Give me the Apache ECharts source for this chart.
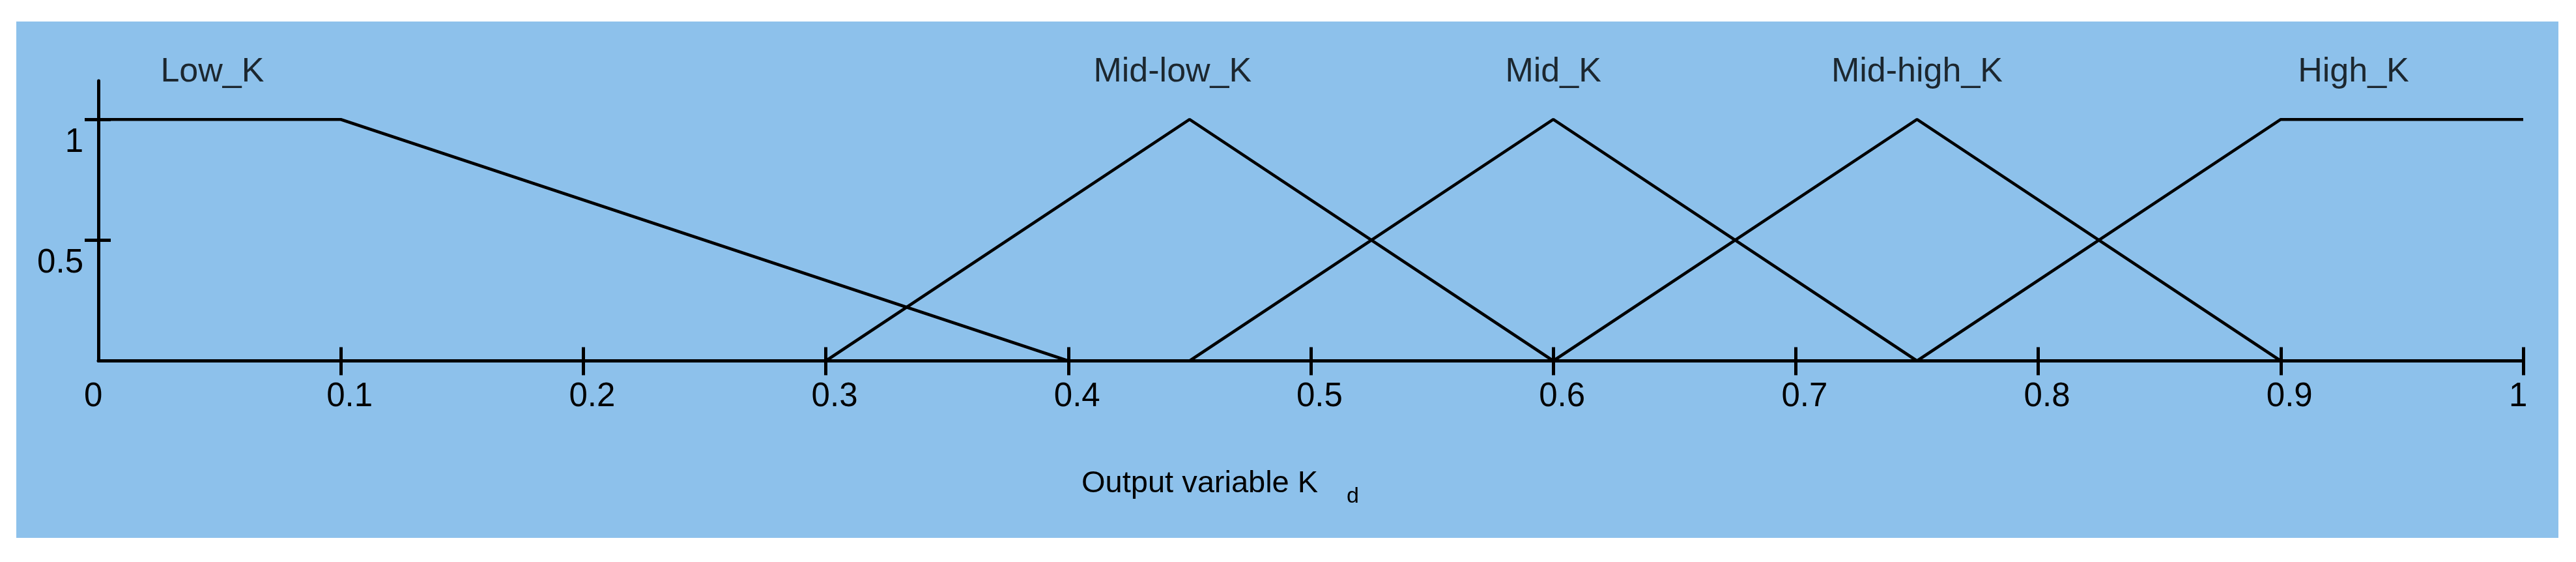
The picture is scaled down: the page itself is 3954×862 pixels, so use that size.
<!DOCTYPE html>
<html>
<head>
<meta charset="utf-8">
<script src="https://cdn.jsdelivr.net/npm/echarts@6/dist/echarts.min.js"></script>
<style>
    html, body {margin: 0; padding: 0; background: #fff;}
    #panel {position: absolute; left: 25px; top: 33px; width: 3902px; height: 792px; background: #8dc1eb;}
    #chart {position: absolute; left: 0; top: 0; width: 3954px; height: 862px;}
</style>
</head>
<body>
<div id="panel"></div>
<div id="chart"></div>
<script>
// membership functions of output variable Kd
var lowK = [[0, 1], [0.1, 1], [0.4, 0]];
var midLowK = [[0.3, 0], [0.45, 1], [0.6, 0]];
var midK = [[0.45, 0], [0.6, 1], [0.75, 0]];
var midHighK = [[0.6, 0], [0.75, 1], [0.9, 0]];
var highK = [[0.75, 0], [0.9, 1], [1, 1]];

var setNames = ['Low_K', 'Mid-low_K', 'Mid_K', 'Mid-high_K', 'High_K'];
var nameX = [0.047, 0.443, 0.6, 0.75, 0.93];
var nameY = 1.195;

var xTickValues = [0.1, 0.2, 0.3, 0.4, 0.5, 0.6, 0.7, 0.8, 0.9, 1];
var xLabelValues = [0, 0.1, 0.2, 0.3, 0.4, 0.5, 0.6, 0.7, 0.8, 0.9, 1];
var yTickValues = [0.5, 1];

var chart = echarts.init(document.getElementById('chart'));
var font = '"Liberation Sans", Arial, sans-serif';
var lineStyle = {color: '#000', width: 4.5};

function mfSeries(name, data) {
    return {
        name: name,
        type: 'line',
        data: data,
        symbol: 'none',
        lineStyle: lineStyle,
        silent: true,
        z: 3
    };
}

var labelData = [];
for (var i = 0; i < setNames.length; i++) {
    labelData.push([nameX[i], nameY, setNames[i]]);
}

var option = {
    animation: false,
    backgroundColor: 'transparent',
    textStyle: {fontFamily: font},
    title: [{
        text: 'Output variable K',
        left: 1655,
        top: 714,
        textStyle: {fontFamily: font, fontSize: 47, fontWeight: 'normal', color: '#000'}
    }, {
        text: 'd',
        left: 2062,
        top: 740,
        textStyle: {fontFamily: font, fontSize: 34, fontWeight: 'normal', color: '#000'}
    }],
    grid: {
        left: 151,
        right: 81,
        top: 124,
        bottom: 308.5,
        containLabel: false
    },
    xAxis: [{
        type: 'value',
        position: 'bottom',
        min: 0,
        max: 1,
        splitLine: {show: false},
        axisLine: {show: true, onZero: false, lineStyle: {color: '#000', width: 5}},
        axisTick: {show: true, length: 22, customValues: xTickValues, lineStyle: {color: '#000', width: 5}},
        axisLabel: {
            show: true,
            customValues: xLabelValues,
            margin: 30,
            align: 'left',
            padding: [0, 0, 0, -22],
            fontSize: 51,
            fontFamily: font,
            color: '#000',
            formatter: function (v) { return String(+v.toFixed(1)); }
        }
    }, {
        type: 'value',
        position: 'bottom',
        min: 0,
        max: 1,
        splitLine: {show: false},
        axisLine: {show: false, onZero: false},
        axisTick: {show: true, inside: true, length: 21, customValues: xTickValues, lineStyle: {color: '#000', width: 5}},
        axisLabel: {show: false}
    }],
    yAxis: [{
        type: 'value',
        position: 'left',
        min: 0,
        max: 1.16,
        splitLine: {show: false},
        axisLine: {show: true, onZero: false, lineStyle: {color: '#000', width: 5}},
        axisTick: {show: true, length: 21, customValues: yTickValues, lineStyle: {color: '#000', width: 5}},
        axisLabel: {
            show: true,
            customValues: yTickValues,
            margin: 23,
            align: 'right',
            verticalAlign: 'top',
            lineHeight: 72,
            fontSize: 51,
            fontFamily: font,
            color: '#000'
        }
    }, {
        type: 'value',
        position: 'left',
        min: 0,
        max: 1.16,
        splitLine: {show: false},
        axisLine: {show: false, onZero: false},
        axisTick: {show: true, inside: true, length: 19, customValues: yTickValues, lineStyle: {color: '#000', width: 5}},
        axisLabel: {show: false}
    }],
    series: [
        mfSeries('Low_K', lowK),
        mfSeries('Mid-low_K', midLowK),
        mfSeries('Mid_K', midK),
        mfSeries('Mid-high_K', midHighK),
        mfSeries('High_K', highK),
        {
            name: 'labels',
            type: 'scatter',
            data: labelData,
            symbolSize: 0,
            clip: false,
            silent: true,
            label: {
                show: true,
                position: 'inside',
                fontSize: 52,
                fontFamily: font,
                color: '#000',
                formatter: function (p) { return p.data[2]; }
            }
        }
    ]
};
chart.setOption(option);
</script>
</body>
</html>
